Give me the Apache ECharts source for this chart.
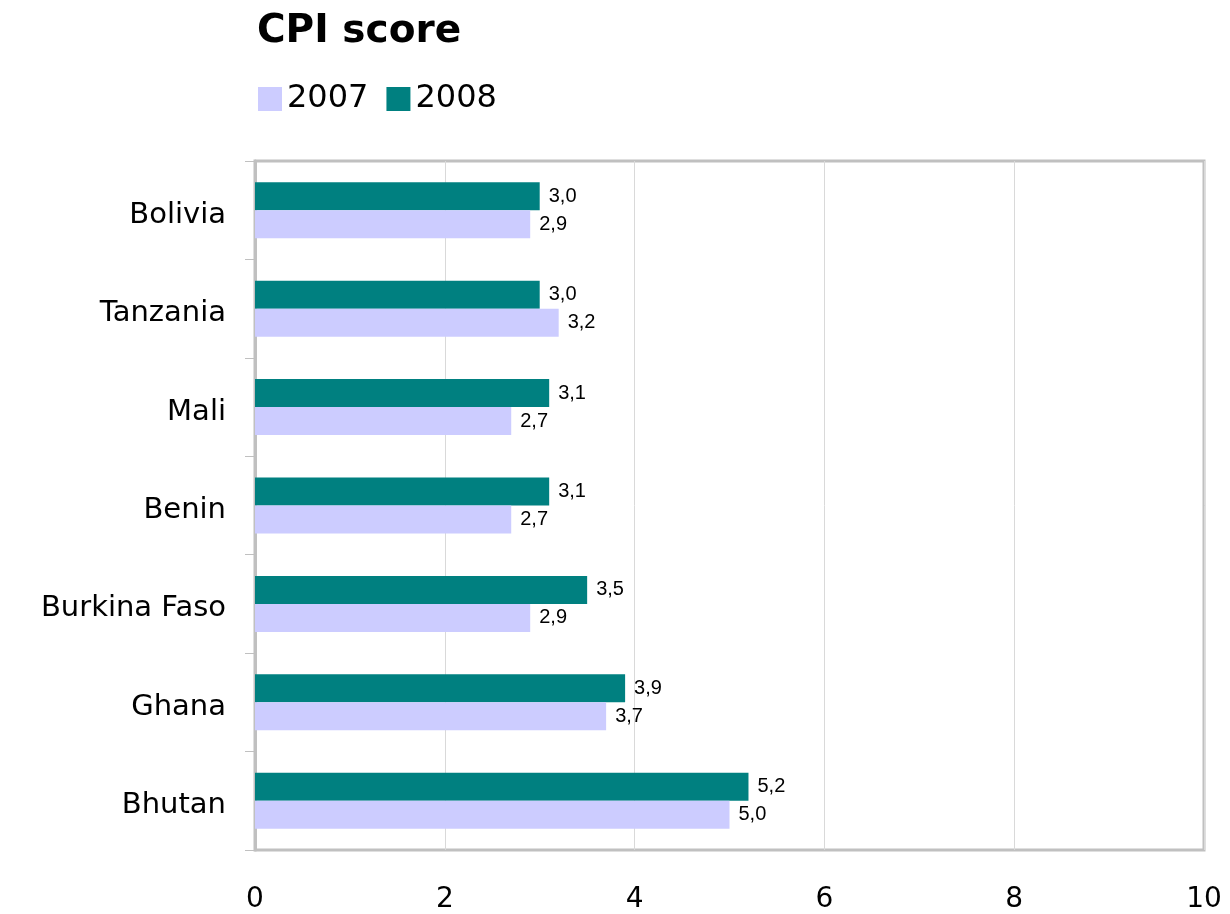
<!DOCTYPE html>
<html><head><meta charset="utf-8">
<script src="https://cdn.jsdelivr.net/npm/echarts@6/dist/echarts.min.js"></script>
<style>html,body{margin:0;padding:0;background:#fff}#c{width:1230px;height:914px}</style>
</head><body><div id="c"></div>
<script>
const categories = ['Bolivia', 'Tanzania', 'Mali', 'Benin', 'Burkina Faso', 'Ghana', 'Bhutan'];
const values2007 = [2.9, 3.2, 2.7, 2.7, 2.9, 3.7, 5.0];
const values2008 = [3.0, 3.0, 3.1, 3.1, 3.5, 3.9, 5.2];
const xTicks = { min: 0, max: 10, interval: 2 };

const chart = echarts.init(document.getElementById('c'));
const fmt = p => p.value.toFixed(1).replace('.', ',');
const lbl = { show: true, position: 'right', distance: 9, formatter: fmt, fontFamily: 'Liberation Sans, Arial', fontSize: 20, color: '#000' };
chart.setOption({
  animation: false,
  title: { text: 'CPI score', left: 252, top: 7, textStyle: { fontFamily: 'DejaVu Sans', fontWeight: 'bold', fontSize: 39, color: '#000' } },
  legend: { left: 253, top: 78, itemWidth: 24, itemHeight: 24, itemGap: 18, icon: 'rect',
    textStyle: { fontFamily: 'DejaVu Sans', fontSize: 32, color: '#000' },
    data: ['2007', '2008'] },
  grid: { left: 255, right: 26, top: 161, bottom: 62, show: true, borderColor: '#c0c0c0', borderWidth: 3 },
  xAxis: { type: 'value', min: xTicks.min, max: xTicks.max, interval: xTicks.interval,
    axisLine: { show: false }, axisTick: { show: false },
    splitLine: { lineStyle: { color: '#d9d9d9', width: 1 } },
    axisLabel: { margin: 36, fontFamily: 'DejaVu Sans', fontSize: 28, color: '#000' } },
  yAxis: { type: 'category', inverse: true, data: categories,
    axisLine: { show: true, lineStyle: { color: '#c0c0c0', width: 3 } },
    axisTick: { show: true, length: 10, lineStyle: { color: '#c0c0c0', width: 1 } },
    axisLabel: { margin: 29, color: '#000',
      formatter: v => '{a|' + v + '}',
      rich: { a: { fontFamily: 'DejaVu Sans', fontSize: 29, color: '#000', padding: [10, 0, 0, 0] } } } },
  series: [
    { name: '2008', type: 'bar', data: values2008, barWidth: 28, barGap: '0%', itemStyle: { color: '#008080' }, label: lbl },
    { name: '2007', type: 'bar', data: values2007, barWidth: 28, barGap: '0%', itemStyle: { color: '#ccccff' }, label: lbl }
  ]
});
</script></body></html>
